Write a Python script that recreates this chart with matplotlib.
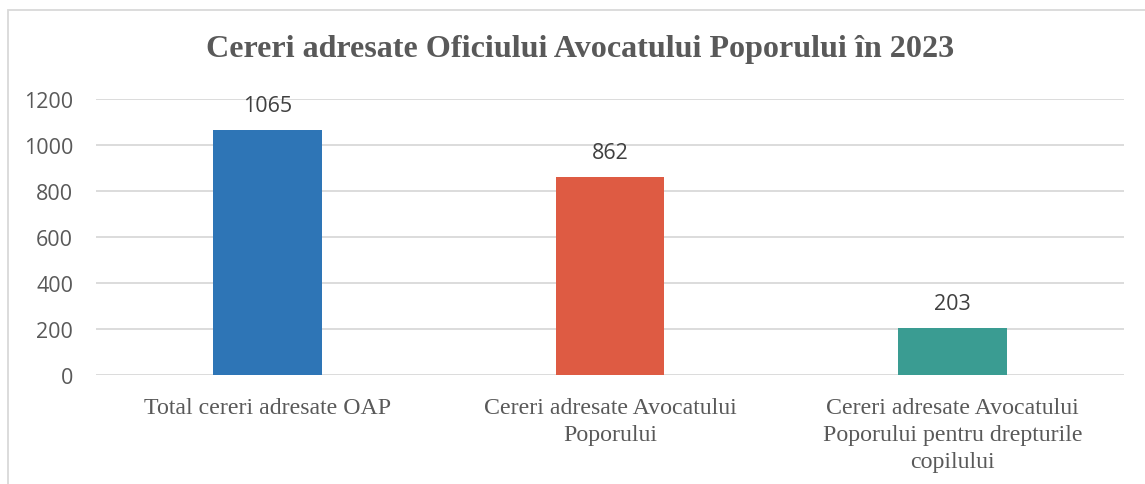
import numpy as np
import matplotlib.pyplot as plt
from matplotlib.patches import Rectangle

categories = ['Total cereri adresate OAP',
              'Cereri adresate Avocatului\nPoporului',
              'Cereri adresate Avocatului\nPoporului pentru drepturile\ncopilului']
values = [1065, 862, 203]
colors = ['#2E75B6', '#DE5B43', '#3A9C92']
yticks = [0, 200, 400, 600, 800, 1000, 1200]

W, H = 1145, 485
fig = plt.figure(figsize=(W/100, H/100), dpi=100)
ax = fig.add_axes([96/W, 1-376/H, (1124-96)/W, (376-100)/H])

x = np.arange(len(categories))
ax.bar(x, values, width=0.318, color=colors, zorder=3)
for xi, v in zip(x, values):
    ax.annotate(f'{v}', (xi, v), xytext=(0, 10), textcoords='offset points',
                ha='center', va='bottom', fontsize=15.5, color='#404040',
                family='Open Sans')

ax.set_xlim(-0.5, len(categories) - 0.5)
ax.set_ylim(0, 1200)
ax.set_yticks(yticks)
ax.set_yticklabels([str(t) for t in yticks], family='Open Sans', fontsize=15.5,
                   color='#595959')
ax.set_xticks(x)
ax.set_xticklabels(categories, family='Liberation Serif', fontsize=17.2,
                   color='#595959', linespacing=1.38)
ax.tick_params(length=0)
ax.tick_params(axis='x', pad=16)
ax.tick_params(axis='y', pad=16.5)
ax.grid(axis='y', color='#D9D9D9', linewidth=1.3, zorder=0)
for s in ax.spines.values():
    s.set_visible(False)

fig.text(580/W, 1-50/H, 'Cereri adresate Oficiului Avocatului Poporului în 2023',
         ha='center', va='center', fontsize=23.1, fontweight='bold',
         family='Liberation Serif', color='#595959')

fig.patches.append(Rectangle((8/W, -0.1), 1.2, 1-11/H + 0.1,
                             transform=fig.transFigure, fill=False,
                             edgecolor='#D9D9D9', linewidth=1.3))

fig.savefig('out.png', dpi=100)
